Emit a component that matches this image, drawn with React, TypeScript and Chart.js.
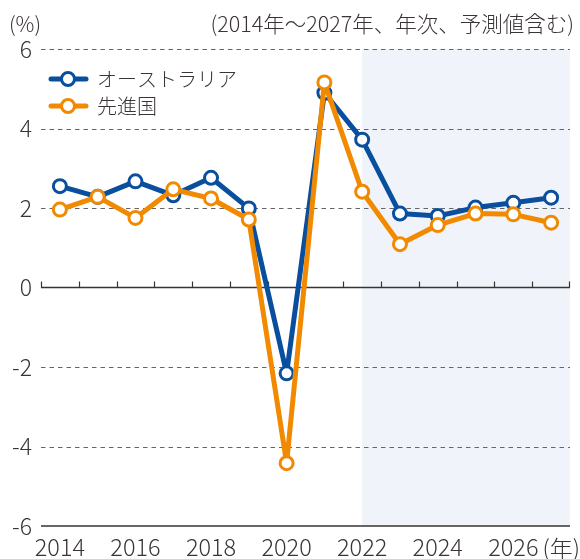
import React, { useEffect, useRef } from "react";
import { Chart, registerables } from "chart.js";

Chart.register(...registerables);

const years = ["2014","2015","2016","2017","2018","2019","2020","2021","2022","2023","2024","2025","2026","2027"];
const australia = [2.55, 2.28, 2.67, 2.32, 2.76, 1.99, -2.16, 4.9, 3.72, 1.86, 1.8, 2.01, 2.13, 2.26];
const advanced = [1.96, 2.28, 1.75, 2.47, 2.24, 1.71, -4.42, 5.16, 2.41, 1.09, 1.57, 1.86, 1.84, 1.63];
const yTicks = [-6, -4, -2, 0, 2, 4, 6];
const forecastStart = "2022";
const seriesNames = ["オーストラリア", "先進国"];
const unitLabel = "(%)";
const noteLabel = "(2014年〜2027年、年次、予測値含む)";
const xUnit = "(年)";

const BLUE = "#0a4f9e";
const ORANGE = "#f18a00";
const TEXT = "#3a3434";
const FONT = "'Noto Sans CJK JP', 'Noto Sans', sans-serif";
const W = "300";

const decorPlugin = {
  id: "decor",
  beforeDatasetsDraw(chart: any) {
    const { ctx, chartArea, scales } = chart;
    const x = scales.x;
    const y = scales.y;
    ctx.save();
    const sx = x.getPixelForValue(years.indexOf(forecastStart));
    ctx.fillStyle = "#f0f4fa";
    ctx.fillRect(sx, chartArea.top, chartArea.right - sx, chartArea.bottom - chartArea.top);
    ctx.strokeStyle = "#666666";
    ctx.lineWidth = 1.2;
    ctx.setLineDash([4.5, 4]);
    yTicks.forEach((v) => {
      if (v === 0 || v === yTicks[0]) return;
      const py = Math.round(y.getPixelForValue(v)) + 0.5;
      ctx.beginPath();
      ctx.moveTo(chartArea.left, py);
      ctx.lineTo(chartArea.right, py);
      ctx.stroke();
    });
    ctx.setLineDash([]);
    ctx.strokeStyle = "#3a3333";
    ctx.lineWidth = 1.5;
    const zy = y.getPixelForValue(0);
    ctx.beginPath();
    ctx.moveTo(chartArea.left, zy);
    ctx.lineTo(chartArea.right, zy);
    ctx.stroke();
    const step = x.getPixelForValue(1) - x.getPixelForValue(0);
    for (let i = 0; i <= years.length; i++) {
      const tx = Math.round(x.getPixelForValue(0) - step / 2 + i * step) + 0.5;
      ctx.beginPath();
      ctx.lineWidth = 1.2;
      ctx.moveTo(Math.min(tx, chartArea.right - 0.5), zy);
      ctx.lineTo(Math.min(tx, chartArea.right - 0.5), zy - 6);
      ctx.stroke();
    }
    ctx.lineWidth = 1.5;
    const by = y.getPixelForValue(yTicks[0]);
    ctx.beginPath();
    ctx.moveTo(chartArea.left, by);
    ctx.lineTo(chartArea.right, by);
    ctx.stroke();
    ctx.restore();
  },
  afterDraw(chart: any) {
    const { ctx, chartArea } = chart;
    ctx.save();
    ctx.fillStyle = TEXT;
    ctx.textBaseline = "middle";
    ctx.font = `${W} 21px ${FONT}`;
    ctx.textAlign = "left";
    ctx.fillText(unitLabel, 9, 24);
    ctx.textAlign = "right";
    ctx.font = `${W} 21.5px ${FONT}`;
    ctx.fillText(noteLabel, 574, 24);
    ctx.font = `${W} 23px ${FONT}`;
    ctx.fillText(xUnit, 580, chartArea.bottom + 22);
    const colors = [BLUE, ORANGE];
    const ly = [79, 106];
    colors.forEach((c, i) => {
      ctx.strokeStyle = c;
      ctx.lineWidth = 5;
      ctx.lineCap = "round";
      ctx.beginPath();
      ctx.moveTo(51, ly[i]);
      ctx.lineTo(86, ly[i]);
      ctx.stroke();
      ctx.beginPath();
      ctx.arc(68, ly[i], 6.5, 0, Math.PI * 2);
      ctx.fillStyle = "#fff";
      ctx.fill();
      ctx.lineWidth = 3;
      ctx.stroke();
      ctx.fillStyle = TEXT;
      ctx.textAlign = "left";
      ctx.font = `${W} 20px ${FONT}`;
      ctx.fillText(seriesNames[i], 97, ly[i]);
    });
    ctx.restore();
  },
};

export default function App() {
  const ref = useRef<HTMLCanvasElement | null>(null);
  useEffect(() => {
    document.body.style.margin = "0";
    if (!ref.current) return;
    Chart.defaults.font.family = FONT;
    Chart.defaults.color = TEXT;
    const common = {
      backgroundColor: "#ffffff",
      pointBackgroundColor: "#ffffff",
      borderWidth: 5,
      pointRadius: 6.5,
      pointBorderWidth: 3,
      tension: 0,
      borderJoinStyle: "round" as const,
      borderCapStyle: "round" as const,
    };
    const chart = new Chart(ref.current, {
      type: "line",
      data: {
        labels: years,
        datasets: [
          { ...common, label: seriesNames[1], data: advanced, borderColor: ORANGE, pointBorderColor: ORANGE },
          { ...common, label: seriesNames[0], data: australia, borderColor: BLUE, pointBorderColor: BLUE },
        ],
      },
      options: {
        animation: false,
        responsive: true,
        maintainAspectRatio: false,
        layout: { padding: { top: 49, right: 10, left: 0, bottom: 0 } },
        plugins: { legend: { display: false }, tooltip: { enabled: false } },
        scales: {
          x: {
            type: "category",
            offset: true,
            grid: { display: false, drawTicks: false },
            border: { display: false },
            ticks: {
              autoSkip: false,
              maxRotation: 0,
              padding: 7,
              font: { size: 23.5, weight: W },
              color: TEXT,
              callback: (_v: any, i: number) => (i % 2 === 0 ? years[i] : ""),
            },
            afterFit: (s: any) => {
              s.height = 33;
            },
          },
          y: {
            min: -6,
            max: 6,
            grid: { display: false, drawTicks: false },
            border: { display: false },
            ticks: { stepSize: 2, padding: 9, font: { size: 23, weight: W }, color: TEXT },
            afterFit: (s: any) => {
              s.width = 41;
            },
          },
        },
      },
      plugins: [decorPlugin],
    });
    return () => chart.destroy();
  }, []);
  return (
    <div style={{ width: 580, height: 559, position: "relative" }}>
      <canvas ref={ref} />
    </div>
  );
}
